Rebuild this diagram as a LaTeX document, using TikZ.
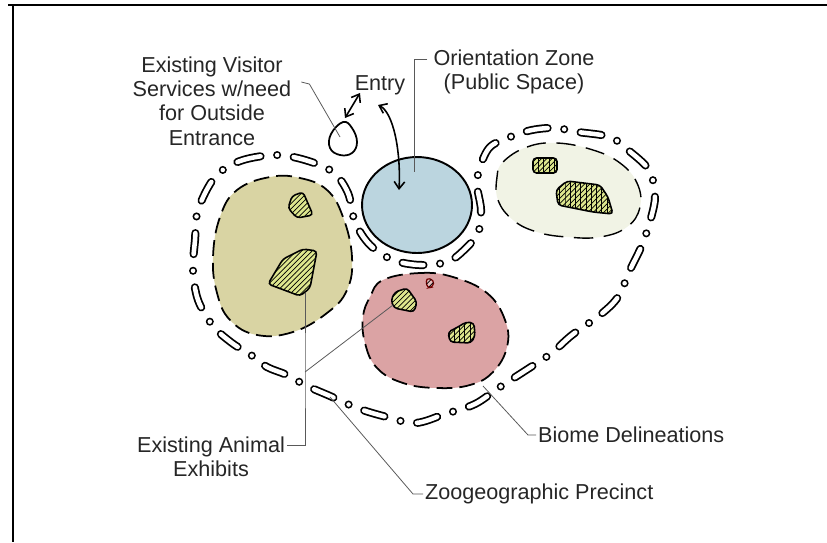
\documentclass[tikz,border=0pt]{standalone}
\usepackage{fontspec}
\setmainfont{Liberation Sans}
\usepackage{tikz}
\usetikzlibrary{arrows.meta, patterns, calc}

\definecolor{sandbiome}{HTML}{D9D4A3}
\definecolor{rosebiome}{HTML}{DBA3A4}
\definecolor{palebiome}{HTML}{F1F3E5}
\definecolor{orientblue}{HTML}{BBD5DF}
\definecolor{exhibitgreen}{HTML}{DEE78E}

\begin{document}
\begin{tikzpicture}[
            x=0.02cm, y=-0.02cm,
            label/.style={align=center, text=black!85, inner sep=1pt, font=\fontsize{12.3}{13.8}\selectfont},
            leader/.style={gray!70!black, line width=0.45pt},
            pen/.style={black, line width=0.9pt, {Straight Barb[length=4pt,width=6pt]}-{Straight Barb[length=4pt,width=6pt]}},
            biome/.style={draw=black, line width=1pt, dash pattern=on 9pt off 4pt},
            precinctline/.style={line width=1pt, double=white, double distance=2.6pt, line cap=round, dash pattern=on 12pt off 9.5pt on 0pt off 9.5pt},
            exhibit/.style={draw=black, line width=0.9pt, fill=exhibitgreen, rounded corners=2pt, postaction={pattern=north east lines}},
            exhibitv/.style={exhibit, postaction={pattern=vertical lines}}
        ]
            \useasboundingbox (0,0) rectangle (827,542);
            \draw[line width=1.1pt] (8,5) -- (827,5);
            \draw[line width=1.1pt] (13,5) -- (13,542);

            \draw[biome, fill=sandbiome] plot[smooth cycle, tension=0.7] coordinates {(270,177) (300,178) (327,190) (343,217) (352,257) (347,290) (327,313) (293,332) (257,335) (230,320) (217,293) (213,257) (220,217) (237,190)};
            \draw[biome, fill=rosebiome] plot[smooth cycle, tension=0.7] coordinates {(383,280) (420,273) (453,277) (487,293) (505,320) (507,347) (493,372) (470,385) (437,388) (403,383) (377,368) (365,343) (363,317) (370,297)};
            \draw[biome, fill=palebiome, line width=0.8pt, dash pattern=on 11pt off 6pt] plot[smooth cycle, tension=0.7] coordinates {(503,162) (527,147) (557,143) (593,150) (620,163) (637,183) (640,207) (627,227) (600,237) (567,237) (537,232) (513,220) (498,200) (497,177)};
            \draw[line width=1.1pt, fill=orientblue] (417,205) ellipse [x radius=1.1cm, y radius=0.96cm];
            \draw[line width=1pt, fill=white] plot[smooth cycle, tension=0.7] coordinates {(343,122) (352,128) (357,142) (352,153) (340,155) (330,148) (331,134)};

            \draw[precinctline] plot[smooth cycle, tension=0.55] coordinates {(215,177) (240,161) (275,155) (305,160) (333,172) (348,193) (355,222) (370,245) (393,260) (420,265) (447,262) (463,251) (478,233) (481,210) (477,185) (480,167) (490,147) (510,137) (532,130) (555,128) (578,132) (610,137) (628,150) (649,170) (655,195) (651,218) (642,245) (630,270) (618,297) (600,315) (572,335) (553,352) (537,363) (500,387) (475,404) (445,414) (415,423) (383,416) (357,408) (330,396) (307,386) (287,375) (267,367) (251,355) (232,343) (213,326) (198,300) (193,270) (195,240) (198,210)};

            \draw[exhibit] (292,196) -- (303,192) -- (313,215) -- (297,218) -- (288,208) -- cycle;
            \draw[exhibit] (303,249) -- (317,251) -- (310,288) -- (300,296) -- (268,284) -- (283,259) -- cycle;
            \draw[exhibit] (395,292) -- (407,288) -- (417,302) -- (414,312) -- (394,308) -- (391,300) -- cycle;
            \draw[exhibitv] (448,332) -- (458,327) -- (466,322) -- (474,323) -- (475,336) -- (471,343) -- (450,342) -- cycle;
            \draw[exhibit, draw=red!45!black, fill=rosebiome!70!white, line width=0.7pt] (426,278) -- (434,280) -- (433,287) -- (427,288) -- cycle;
            \draw[exhibitv] (533,158) rectangle (557,173);
            \draw[exhibitv] (556,190) -- (567,181) -- (600,185) -- (608,197) -- (613,214) -- (593,212) -- (558,205) -- cycle;

            \node[label] (visitor) at (212,101) {Existing Visitor\\Services w/need\\for Outside\\Entrance};
            \node[label] (entry) at (380,85) {Entry};
            \node[label] (orient) at (514,72) {Orientation Zone\\(Public Space)};
            \node[label] (animal) at (211,457) {Existing Animal\\Exhibits};
            \node[label, anchor=west] (precinct) at (423,494) {Zoogeographic Precinct};
            \node[label, anchor=west] (biomes) at (536,435) {Biome Delineations};

            \coordinate (eggpt) at (340,137);
            \coordinate (zonept) at (414,172);
            \coordinate (yexh) at (305,293);
            \coordinate (split) at (305,372);
            \coordinate (rexh) at (393,305);
            \coordinate (ak) at (305,445);
            \coordinate (pdash) at (330,397);
            \coordinate (bedge) at (483,386);
            \coordinate (dbla) at (345,118);
            \coordinate (dblb) at (360,93);
            \coordinate (etop) at (378,105);
            \coordinate (ebot) at (399,190);

            \draw[leader] ([shift={(8,-19)}]visitor.east) -- ++(8,2) -- (eggpt);
            \draw[leader] ([shift={(-4,12)}]orient.north west) -| (zonept);
            \draw[leader] (animal.east |- ak) -- (ak) -- (split) -- (yexh);
            \draw[leader] (split) -- (rexh);
            \draw[leader] (precinct.west) -- ++(-10,0) -- (pdash);
            \draw[leader] (biomes.west) -- ++(-8,0) -- (bedge);

            \draw[pen] (dbla) -- (dblb);
            \draw[pen] (etop) .. controls (393,112) and (401,150) .. (ebot);
        \end{tikzpicture}
\end{document}
